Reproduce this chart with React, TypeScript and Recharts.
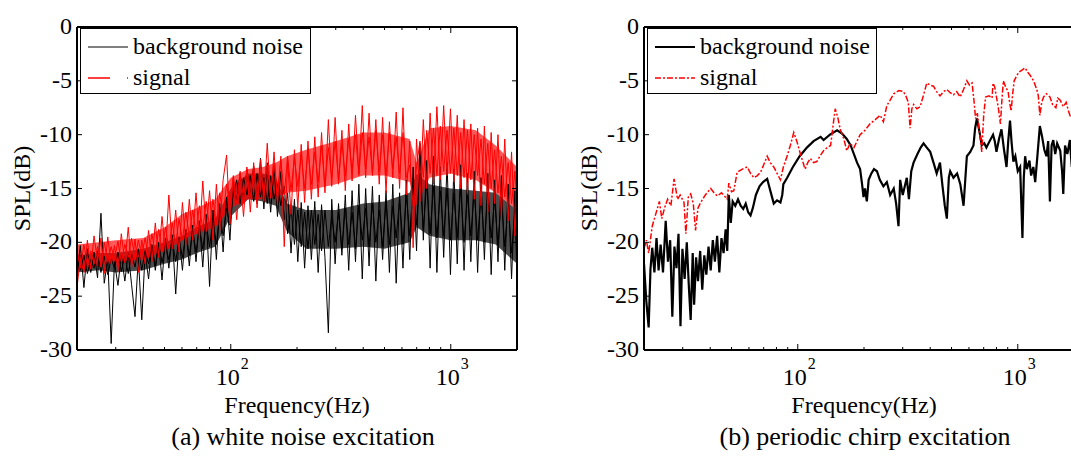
import React from "react";
import { Area, ComposedChart, Legend, Line, LineChart, XAxis, YAxis } from "recharts";

// (a) white noise excitation
const whiteFreq = [
  20, 20.7, 21.5, 22.3, 23.1, 23.9, 24.8, 25.7, 26.6, 27.6,
  28.6, 29.6, 30.7, 31.8, 33, 34.2, 35.4, 36.7, 38, 39.4,
  40.8, 42.3, 43.8, 45.4, 47, 48.7, 50.5, 52.3, 54.2, 56.2,
  58.2, 60.3, 62.5, 64.8, 67.1, 69.5, 72, 74.6, 77.3, 80.1,
  83, 86, 89.1, 92.3, 95.7, 99.1, 102.7, 106.4, 110.3, 114.3,
  118.4, 122.7, 127.1, 131.7, 136.5, 141.4, 146.5, 151.8, 157.3, 163,
  168.9, 175, 181.3, 187.9, 194.7, 201.7, 209, 216.6, 224.4, 232.5,
  240.9, 249.6, 258.6, 268, 277.7, 287.7, 298.1, 308.9, 320, 331.6,
  343.6, 356, 368.9, 382.2, 396, 410.3, 425.2, 440.5, 456.5, 473,
  490, 507.8, 526.1, 545.1, 564.8, 585.2, 606.4, 628.3, 651, 674.5,
  698.9, 724.2, 750.3, 777.5, 805.6, 834.7, 864.8, 896.1, 928.5, 962,
  996.8, 1032.8, 1070.1, 1108.8, 1148.9, 1190.4, 1233.5, 1278.1, 1324.3, 1372.2,
  1421.8, 1473.2, 1526.5, 1581.7, 1638.9, 1698.2, 1759.6, 1823.2, 1889.1, 1957.4,
  2000,
];
// outer excursions of the background-noise trace
const whiteNoise = [
  -23.5, -20.3, -24.2, -20.6, -22.8, -20.9, -23.3, -17.3, -23.8, -21.5,
  -29.4, -21.8, -24.0, -21.2, -23.6, -21.0, -23.9, -26.9, -21.4, -27.2,
  -21.0, -23.4, -20.2, -22.6, -20.0, -23.5, -19.6, -22.4, -19.3, -24.8,
  -19.5, -22.6, -18.8, -22.2, -18.4, -21.8, -18.0, -22.3, -17.4, -24.1,
  -17.0, -21.6, -16.4, -20.9, -15.8, -19.8, -14.4, -16.2, -13.6, -16.0,
  -13.3, -15.8, -12.9, -16.4, -12.2, -16.9, -12.6, -17.2, -13.0, -17.6,
  -13.4, -17.9, -15.4, -21.0, -16.0, -21.8, -16.3, -22.4, -16.6, -21.6,
  -16.2, -22.8, -16.5, -21.4, -28.4, -16.0, -22.0, -16.4, -21.2, -15.6,
  -22.6, -15.2, -21.8, -14.6, -23.4, -15.0, -22.2, -14.8, -23.6, -15.6,
  -21.6, -15.2, -22.8, -14.6, -23.8, -15.4, -22.4, -14.2, -21.6, -13.0,
  -20.8, -10.8, -19.8, -12.4, -22.4, -12.0, -22.8, -13.0, -21.4, -12.6,
  -23.0, -13.2, -22.0, -12.8, -22.6, -13.6, -21.8, -13.4, -22.8, -14.0,
  -21.6, -13.6, -23.0, -14.2, -21.8, -13.8, -22.6, -14.6, -23.4, -15.2,
  -23.8,
];
// inner swings of the background-noise trace
const whiteNoiseInner = [
  -21.4, -22.6, -21.2, -22.9, -21.6, -22.4, -20.8, -22.8, -21.3, -23.0,
  -21.5, -22.4, -20.9, -22.7, -21.3, -22.9, -21.1, -22.3, -20.6, -22.6,
  -20.8, -22.0, -20.4, -22.2, -20.1, -21.9, -20.3, -21.6, -19.8, -21.8,
  -19.6, -21.4, -19.2, -21.2, -18.9, -20.9, -18.6, -20.6, -18.2, -20.4,
  -18.0, -20.2, -17.4, -19.4, -16.8, -18.4, -15.4, -14.2, -16.4, -14.0,
  -15.6, -13.8, -16.2, -13.6, -15.8, -14.0, -16.4, -13.8, -16.0, -14.6,
  -16.6, -14.8, -19.2, -16.8, -20.2, -17.0, -20.4, -17.2, -20.6, -17.0,
  -20.2, -17.4, -20.8, -17.0, -20.4, -17.6, -20.0, -17.2, -20.6, -16.8,
  -20.2, -17.2, -20.6, -16.6, -19.8, -16.8, -20.4, -16.4, -20.0, -17.0,
  -20.4, -16.2, -20.2, -16.6, -19.6, -16.0, -20.2, -15.6, -19.4, -14.8,
  -18.4, -13.6, -18.8, -14.4, -19.2, -14.8, -19.6, -15.2, -19.4, -15.0,
  -19.8, -15.4, -19.6, -15.0, -20.0, -15.6, -19.4, -15.2, -19.8, -15.6,
  -20.0, -15.4, -19.6, -16.0, -20.2, -15.8, -20.4, -16.4, -21.0, -17.0,
  -21.6,
];
// outer excursions of the signal trace
const whiteSignal = [
  -24.2, -21.5, -22.8, -19.8, -22.5, -19.4, -21.8, -19.6, -22.9, -19.5,
  -22.0, -20.3, -22.7, -19.2, -21.9, -18.6, -22.4, -19.7, -22.8, -19.8,
  -22.0, -18.9, -21.8, -18.2, -21.4, -17.6, -21.0, -15.6, -20.6, -17.0,
  -20.9, -16.3, -20.2, -16.0, -19.8, -15.4, -19.6, -14.3, -19.0, -15.2,
  -19.8, -14.6, -18.9, -14.2, -11.9, -18.3, -14.0, -17.9, -13.6, -17.6,
  -13.0, -17.2, -12.6, -16.8, -12.3, -16.2, -10.8, -15.9, -11.6, -16.5,
  -12.0, -20.4, -12.4, -17.4, -11.4, -16.8, -10.9, -16.3, -10.6, -16.0,
  -10.2, -15.8, -9.8, -15.4, -8.6, -14.8, -8.4, -14.6, -9.6, -15.2,
  -9.0, -14.3, -8.2, -13.6, -7.3, -14.0, -8.0, -13.8, -8.6, -14.6,
  -8.4, -15.4, -8.8, -14.0, -7.9, -15.0, -7.5, -15.6, -10.6, -20.5,
  -10.4, -16.2, -8.6, -15.0, -8.0, -14.6, -7.4, -14.2, -7.3, -13.8,
  -7.6, -14.4, -8.2, -15.0, -8.6, -15.4, -9.0, -16.0, -9.4, -16.6,
  -9.2, -17.2, -9.8, -16.4, -10.0, -17.6, -10.4, -18.0, -11.6, -19.4,
  -14.6,
];
// inner swings of the signal trace
const whiteSignalInner = [
  -20.6, -22.4, -20.2, -22.2, -20.8, -22.0, -20.4, -22.3, -20.0, -21.8,
  -20.4, -21.6, -19.9, -21.8, -20.2, -21.4, -19.6, -21.6, -19.8, -21.2,
  -19.6, -21.4, -19.2, -21.0, -18.8, -20.8, -18.6, -20.6, -18.2, -20.2,
  -17.8, -19.8, -17.2, -19.4, -17.0, -19.2, -16.6, -18.8, -16.2, -18.6,
  -16.0, -18.4, -15.4, -17.6, -14.6, -16.6, -13.8, -16.4, -13.4, -16.0,
  -13.2, -15.8, -13.0, -16.0, -13.4, -15.6, -12.8, -15.8, -12.6, -15.4,
  -12.4, -15.6, -12.0, -15.2, -12.2, -14.8, -11.8, -15.0, -11.4, -14.6,
  -11.6, -14.4, -11.0, -14.8, -11.2, -14.0, -10.6, -14.2, -10.8, -13.8,
  -10.4, -13.4, -10.0, -13.8, -9.8, -13.2, -10.2, -13.6, -9.6, -13.4,
  -10.0, -13.8, -9.8, -13.2, -10.2, -13.6, -9.8, -14.0, -12.8, -16.6,
  -13.0, -10.6, -14.0, -9.6, -13.6, -9.4, -13.8, -9.2, -13.4, -9.6,
  -13.6, -9.4, -13.8, -9.8, -14.0, -9.6, -14.2, -10.0, -13.8, -10.4,
  -14.6, -10.8, -15.0, -11.4, -15.4, -12.0, -15.8, -12.6, -16.4, -13.4,
  -16.6,
];
// dense core of each noisy trace in (a), read as upper/lower edges
const whiteBandFreq = [20, 25, 30, 40, 50, 60, 70, 85, 100, 120, 140, 160, 180, 220, 300, 400, 500, 650, 700, 800, 1000, 1300, 1600, 2000];
const whiteNoiseHi = [-21.2, -21.0, -21.0, -20.6, -20.0, -19.4, -18.6, -17.8, -15.0, -13.6, -13.6, -14.0, -16.4, -17.0, -17.0, -16.4, -16.2, -15.4, -13.6, -14.6, -15.0, -15.2, -15.4, -17.0];
const whiteNoiseLo = [-22.8, -22.6, -22.8, -22.6, -22.0, -21.6, -21.0, -20.4, -17.6, -16.0, -16.2, -16.6, -19.0, -20.6, -20.6, -20.4, -20.6, -20.0, -18.6, -19.4, -19.8, -19.8, -20.2, -22.0];
const whiteSignalHi = [-20.2, -20.0, -19.8, -19.6, -18.6, -17.4, -16.8, -16.0, -14.0, -13.2, -13.0, -12.6, -12.0, -11.4, -10.6, -9.8, -9.8, -10.4, -12.6, -9.4, -9.2, -9.6, -11.0, -13.0];
const whiteSignalLo = [-22.6, -22.2, -21.8, -21.6, -20.8, -19.8, -19.2, -18.6, -16.8, -16.0, -16.0, -15.8, -15.4, -15.2, -14.6, -13.8, -13.8, -14.4, -16.6, -14.0, -13.6, -14.2, -15.4, -17.0];

// (b) periodic chirp excitation
const chirpNoiseFreq = [
  20, 20.5, 21, 21.4, 21.8, 22.3, 22.8, 23.3, 23.8, 24.4,
  25.1, 25.7, 26.3, 26.9, 27.5, 28.1, 28.7, 29.3, 29.9, 30.6,
  31.3, 32, 32.6, 33.3, 33.8, 34.5, 35.2, 36, 36.8, 37.6,
  38.4, 39.3, 40.2, 41.1, 42, 43, 44, 45, 46, 47,
  47.8, 48.6, 49.6, 50.6, 52, 53.5, 55, 56.5, 58, 59.5,
  61, 62.5, 64.5, 67, 69.5, 72.6, 75, 77.8, 80.5, 83.4,
  85, 86, 89.5, 95, 102, 110, 118, 127, 131, 140,
  151, 159, 167, 174, 180, 186, 192, 196, 199, 202,
  206, 210, 216, 222, 229, 236, 245, 254, 263, 273,
  280, 287, 292, 300, 313, 320, 328, 336, 350, 362,
  373, 386, 400, 414, 428, 443, 455, 466, 476, 486,
  493, 510, 530, 548, 567, 578, 587, 608, 629, 640,
  652, 668, 686, 704, 720, 745, 772, 786, 800, 822,
  843, 866, 889, 905, 922, 938, 955, 975, 1000, 1025,
  1050, 1065, 1080, 1100, 1130, 1150, 1177, 1200, 1230, 1260,
  1290, 1320, 1350, 1375, 1400, 1425, 1450, 1480, 1510, 1560,
  1590, 1610, 1640, 1680, 1725, 1760, 1800, 1850, 1900, 1950,
  2000,
];
const chirpNoise = [
  -22.0, -25.5, -27.9, -22.5, -20.5, -22.8, -19.6, -22.6, -20.2, -22.8,
  -18.0, -21.8, -19.8, -26.9, -20.4, -22.4, -19.2, -27.8, -20.6, -23.4,
  -20.0, -24.2, -27.2, -21.0, -25.8, -21.4, -23.6, -20.8, -24.4, -21.2,
  -23.0, -20.4, -22.6, -19.8, -21.8, -19.4, -22.8, -19.6, -21.0, -18.8,
  -20.8, -15.6, -18.2, -16.2, -16.6, -16.0, -16.6, -16.9, -16.4, -17.2,
  -17.5, -16.8, -15.6, -14.8, -14.4, -14.1, -15.2, -16.4, -16.1, -16.3,
  -15.6, -14.6, -14.0, -13.0, -12.0, -11.2, -10.6, -10.2, -10.5, -10.0,
  -9.6, -9.9, -10.4, -11.0, -11.8, -12.6, -13.2, -14.6, -15.8, -15.0,
  -16.2, -14.2, -13.6, -13.2, -13.4, -14.2, -14.8, -14.4, -15.6, -15.0,
  -16.4, -18.5, -14.2, -15.6, -14.0, -16.0, -13.4, -12.6, -11.8, -11.2,
  -10.8, -11.2, -11.6, -12.6, -13.6, -12.6, -14.8, -16.6, -17.8, -14.0,
  -13.4, -14.0, -13.6, -14.6, -16.6, -14.0, -12.0, -11.6, -11.0, -9.4,
  -8.5, -9.6, -11.0, -10.8, -11.2, -10.6, -10.0, -10.6, -11.6, -10.4,
  -9.5, -11.4, -13.0, -10.6, -8.7, -10.8, -12.5, -12.0, -13.4, -13.0,
  -19.6, -14.0, -12.0, -13.2, -12.4, -13.8, -13.0, -14.4, -11.8, -9.2,
  -10.2, -11.4, -12.0, -10.6, -16.2, -11.0, -10.5, -11.8, -10.8, -11.5,
  -13.4, -15.5, -11.0, -11.8, -10.5, -13.0, -11.2, -12.4, -10.8, -11.6,
  -12.0,
];
const chirpSignalFreq = [
  20, 20.5, 21, 21.8, 22.6, 23.5, 24.1, 24.8, 25.6, 26.5,
  27.4, 28.4, 29.2, 30.4, 31, 31.8, 32.6, 33.5, 34.3, 35.2,
  36.2, 38, 40.2, 41.6, 43.1, 45, 47.8, 48.6, 50, 51.2,
  53, 56, 58.9, 61, 63.2, 65.5, 67.7, 70, 72.6, 75,
  77.8, 80.5, 83.4, 86, 89.4, 92.5, 95.9, 99, 102.8, 108,
  111, 114, 118, 122, 126, 131, 136, 141, 145, 148,
  152, 156, 162, 167, 173, 180, 186, 192, 202, 213,
  225, 237, 245, 254, 263, 273, 288, 302, 310, 318,
  324, 330, 336, 348, 360, 372, 386, 400, 414, 428,
  443, 460, 476, 493, 510, 528, 547, 567, 587, 603,
  620, 632, 643, 655, 667, 676, 686, 700, 714, 740,
  764, 772, 786, 800, 817, 834, 847, 860, 882, 904,
  918, 933, 948, 963, 985, 1010, 1045, 1080, 1110, 1140,
  1180, 1220, 1240, 1260, 1285, 1310, 1350, 1400, 1440, 1490,
  1520, 1560, 1610, 1660, 1700, 1740, 1800, 1900, 2000,
];
const chirpSignal = [
  -20.6, -19.8, -21.0, -18.5, -17.4, -16.2, -17.8, -16.8, -16.0, -16.6,
  -14.1, -16.0, -15.6, -16.3, -19.2, -15.8, -15.5, -16.4, -18.9, -16.8,
  -16.3, -15.6, -15.0, -15.4, -15.7, -15.4, -16.0, -14.5, -15.3, -15.2,
  -13.5, -13.2, -13.0, -13.6, -14.0, -13.8, -13.5, -12.8, -12.0, -12.6,
  -13.0, -13.6, -14.2, -13.0, -12.0, -11.0, -9.8, -10.6, -11.8, -13.2,
  -12.6, -12.2, -12.6, -12.5, -12.0, -11.5, -11.2, -11.0, -9.0, -7.6,
  -8.4, -9.5, -10.4, -11.5, -10.8, -11.2, -10.6, -10.0, -9.6, -9.0,
  -8.6, -8.2, -8.8, -7.3, -6.8, -6.2, -5.9, -6.0, -6.4, -7.0,
  -9.4, -7.6, -7.2, -7.6, -7.4, -6.4, -5.2, -5.4, -5.5, -6.0,
  -6.4, -6.0, -5.8, -6.1, -6.3, -6.0, -6.5, -5.8, -5.0, -5.4,
  -5.2, -6.8, -8.5, -8.0, -9.5, -10.4, -11.6, -8.2, -6.5, -6.4,
  -6.6, -5.2, -5.6, -6.5, -7.6, -9.0, -6.8, -5.0, -5.6, -6.0,
  -7.0, -7.8, -6.2, -5.0, -4.6, -4.2, -4.0, -3.8, -4.2, -4.5,
  -5.0, -5.8, -6.4, -8.2, -7.0, -6.5, -6.2, -6.5, -7.2, -7.5,
  -6.6, -6.8, -7.4, -7.0, -7.8, -8.4, -8.0, -8.6, -8.8,
];

const freqTicks = [30, 40, 50, 60, 70, 80, 90, 100, 200, 300, 400, 500, 600, 700, 800, 900, 1000];
const splTicks = [-30, -25, -20, -15, -10, -5, 0];
const seriesNames = ["background noise", "signal"];

const FONT = "'Liberation Serif', 'Times New Roman', serif";

const whiteRows = whiteFreq.map((f, i) => ({
  f,
  noise: whiteNoise[i],
  noiseInner: whiteNoiseInner[i],
  signal: whiteSignal[i],
  signalInner: whiteSignalInner[i],
}));
const whiteBandRows = whiteBandFreq.map((f, i) => ({
  f,
  noiseBand: [whiteNoiseLo[i], whiteNoiseHi[i]],
  signalBand: [whiteSignalLo[i], whiteSignalHi[i]],
}));
const chirpNoiseRows = chirpNoiseFreq.map((f, i) => ({ f, noise: chirpNoise[i] }));
const chirpSignalRows = chirpSignalFreq.map((f, i) => ({ f, signal: chirpSignal[i] }));

function FreqTick(props: any) {
  const { x, y, payload, side } = props;
  const v = payload.value;
  const major = v === 100 || v === 1000;
  const len = major ? 6 : 3;
  const dir = side === "bottom" ? -1 : 1;
  return (
    <g>
      <line x1={x} x2={x} y1={y} y2={y + dir * len} stroke="#000" strokeWidth={1} />
      {side === "bottom" && major && (
        <text x={x - 15} y={y + 35} fontSize={24} fontFamily={FONT} fill="#000">
          10
          <tspan fontSize={16} dx={1} dy={-16}>
            {v === 100 ? "2" : "3"}
          </tspan>
        </text>
      )}
    </g>
  );
}

function SplTick(props: any) {
  const { x, y, payload, side } = props;
  const dir = side === "left" ? 1 : -1;
  return (
    <g>
      <line x1={x} x2={x + dir * 5} y1={y} y2={y} stroke="#000" strokeWidth={1} />
      {side === "left" && (
        <text x={x - 5} y={y} dy={7} textAnchor="end" fontSize={24} fontFamily={FONT} fill="#000">
          {payload.value}
        </text>
      )}
    </g>
  );
}

function LegendBox({ dashed, width, thick }: { dashed: string | undefined; width: number; thick: number }) {
  return (
    <div
      style={{
        width,
        height: 62,
        border: "1px solid #000",
        background: "#fff",
        fontFamily: FONT,
        fontSize: 24,
        paddingTop: 2,
        boxSizing: "content-box",
      }}
    >
      {seriesNames.map((name, i) => (
        <div key={name} style={{ display: "flex", alignItems: "center", height: 31, lineHeight: "31px" }}>
          <svg width={52} height={8} style={{ flex: "none" }}>
            <line
              x1={7}
              x2={47}
              y1={4}
              y2={4}
              stroke={i === 0 ? "#000" : "#ff0000"}
              strokeWidth={i === 0 ? thick : 1.3}
              strokeDasharray={i === 0 ? undefined : dashed}
            />
          </svg>
          <span style={{ whiteSpace: "nowrap" }}>{name}</span>
        </div>
      ))}
    </div>
  );
}

function xLabel(props: any) {
  const vb = props.viewBox;
  return (
    <text x={vb.x + vb.width / 2} y={vb.y + 63} textAnchor="middle" fontSize={24} fontFamily={FONT} fill="#000">
      Frequency(Hz)
    </text>
  );
}

function yLabel(props: any) {
  const vb = props.viewBox;
  const cx = vb.x + vb.width - 55;
  const cy = vb.y + vb.height / 2;
  return (
    <text
      x={cx}
      y={cy}
      transform={`rotate(-90 ${cx} ${cy})`}
      textAnchor="middle"
      dominantBaseline="central"
      fontSize={24}
      fontFamily={FONT}
      fill="#000"
    >
      SPL(dB)
    </text>
  );
}

function Frame() {
  const common = {
    type: "number" as const,
    scale: "log" as const,
    domain: [20, 2000],
    allowDataOverflow: true,
    ticks: freqTicks,
    interval: 0 as const,
    tickSize: 0,
    tickMargin: 0,
    axisLine: { stroke: "#000", strokeWidth: 2 },
    tickLine: false,
  };
  const yCommon = {
    type: "number" as const,
    domain: [-30, 0],
    allowDataOverflow: true,
    ticks: splTicks,
    interval: 0 as const,
    tickSize: 0,
    tickMargin: 0,
    axisLine: { stroke: "#000", strokeWidth: 2 },
    tickLine: false,
  };
  return [
    <XAxis key="xb" {...common} dataKey="f" height={30} tick={(p: any) => <FreqTick {...p} side="bottom" />} label={xLabel} />,
    <XAxis key="xt" {...common} dataKey="f" xAxisId="top" orientation="top" height={1} tick={(p: any) => <FreqTick {...p} side="top" />} />,
    <YAxis key="yl" {...yCommon} width={60} tick={(p: any) => <SplTick {...p} side="left" />} label={yLabel} />,
    <YAxis key="yr" {...yCommon} yAxisId="right" orientation="right" width={1} tick={(p: any) => <SplTick {...p} side="right" />} />,
  ];
}

const margin = { top: 26, right: 22, bottom: 50, left: 17 };

export default function App() {
  return (
    <div
      style={{
        position: "fixed",
        left: 0,
        top: 0,
        width: 1071,
        height: 459,
        overflow: "hidden",
        background: "#fff",
        fontFamily: FONT,
      }}
    >
      <div style={{ position: "absolute", left: 0, top: 0 }}>
        <ComposedChart width={540} height={430} data={whiteBandRows} margin={margin}>
          {Frame()}
          <Area type="linear" dataKey="noiseBand" stroke="none" fill="#000" fillOpacity={0.7} isAnimationActive={false} activeDot={false} />
          <Line type="linear" data={whiteRows} dataKey="noise" stroke="#000" strokeWidth={1} dot={false} activeDot={false} isAnimationActive={false} />
          <Line type="linear" data={whiteRows} dataKey="noiseInner" stroke="#000" strokeWidth={1} dot={false} activeDot={false} isAnimationActive={false} />
          <Area type="linear" dataKey="signalBand" stroke="none" fill="#ff0000" fillOpacity={0.65} isAnimationActive={false} activeDot={false} />
          <Line type="linear" data={whiteRows} dataKey="signal" stroke="#ff0000" strokeWidth={1} dot={false} activeDot={false} isAnimationActive={false} />
          <Line type="linear" data={whiteRows} dataKey="signalInner" stroke="#ff0000" strokeWidth={1} dot={false} activeDot={false} isAnimationActive={false} />
          <Legend
            verticalAlign="middle"
            align="center"
            layout="horizontal"
            wrapperStyle={{ left: 80, top: 28, width: "auto" }}
            content={() => <LegendBox dashed="22 17" width={229} thick={1} />}
          />
        </ComposedChart>
      </div>
      <div style={{ position: "absolute", left: 567, top: 0 }}>
        <LineChart width={540} height={430} margin={margin}>
          {Frame()}
          <Line
            type="linear"
            data={chirpNoiseRows}
            dataKey="noise"
            stroke="#000"
            strokeWidth={2.2}
            dot={false}
            activeDot={false}
            isAnimationActive={false}
          />
          <Line
            type="linear"
            data={chirpSignalRows}
            dataKey="signal"
            stroke="#ff0000"
            strokeWidth={1.5}
            strokeDasharray="6 2 2 2"
            dot={false}
            activeDot={false}
            isAnimationActive={false}
          />
          <Legend
            verticalAlign="middle"
            align="center"
            layout="horizontal"
            wrapperStyle={{ left: 80, top: 28, width: "auto" }}
            content={() => <LegendBox dashed="6 2 2 2" width={228} thick={2} />}
          />
        </LineChart>
      </div>
      <div style={{ position: "absolute", left: 103, width: 400, top: 424, textAlign: "center", fontSize: 26, lineHeight: "26px" }}>
        (a) white noise excitation
      </div>
      <div style={{ position: "absolute", left: 665, width: 400, top: 424, textAlign: "center", fontSize: 26, lineHeight: "26px" }}>
        (b) periodic chirp excitation
      </div>
    </div>
  );
}
